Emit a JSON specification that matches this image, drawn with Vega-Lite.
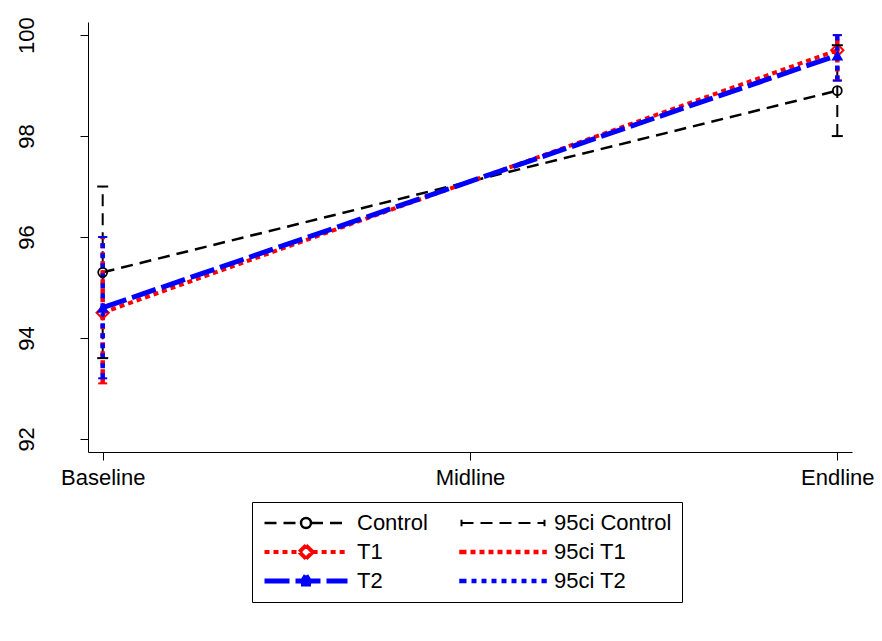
{
  "$schema": "https://vega.github.io/schema/vega-lite/v6.json",
  "width": 764,
  "height": 430,
  "autosize": {"type": "none"},
  "padding": {"left": 88, "top": 22, "right": 30, "bottom": 189},
  "background": "white",
  "config": {
    "view": {"stroke": null},
    "font": "Liberation Sans",
    "axis": {
      "labelFont": "Liberation Sans",
      "labelFontSize": 22,
      "labelColor": "black",
      "domainColor": "black",
      "domainWidth": 1,
      "tickColor": "black",
      "tickWidth": 1,
      "tickSize": 8,
      "grid": false,
      "title": null
    },
    "legend": {
      "orient": "none",
      "legendX": 164,
      "legendY": 480,
      "columns": 2,
      "padding": 10,
      "strokeColor": "black",
      "fillColor": "white",
      "columnPadding": 31,
      "rowPadding": 7,
      "clipHeight": 22,
      "symbolSize": 6889,
      "symbolOffset": 0,
      "labelOffset": 7,
      "labelFont": "Liberation Sans",
      "labelFontSize": 22,
      "labelColor": "black",
      "labelLimit": 300,
      "symbolFillColor": "transparent",
      "symbolOpacity": 1
    }
  },
  "datasets": {
    "lines": [
      {"series": "Control", "grp": "Control", "time": "Baseline", "v": 95.3},
      {"series": "Control", "grp": "Control", "time": "Endline", "v": 98.9},
      {"series": "T1", "grp": "T1", "time": "Baseline", "v": 94.5},
      {"series": "T1", "grp": "T1", "time": "Endline", "v": 99.7},
      {"series": "T2", "grp": "T2", "time": "Baseline", "v": 94.6},
      {"series": "T2", "grp": "T2", "time": "Endline", "v": 99.6},
      {"series": "95ci Control", "grp": "cC_b", "time": "Baseline", "v": 93.6},
      {"series": "95ci Control", "grp": "cC_b", "time": "Baseline", "v": 97.0},
      {"series": "95ci Control", "grp": "cC_e", "time": "Endline", "v": 98.0},
      {"series": "95ci Control", "grp": "cC_e", "time": "Endline", "v": 99.8},
      {"series": "95ci T1", "grp": "c1_b", "time": "Baseline", "v": 93.1},
      {"series": "95ci T1", "grp": "c1_b", "time": "Baseline", "v": 96.0},
      {"series": "95ci T1", "grp": "c1_e", "time": "Endline", "v": 99.1},
      {"series": "95ci T1", "grp": "c1_e", "time": "Endline", "v": 100.0},
      {"series": "95ci T2", "grp": "c2_b", "time": "Baseline", "v": 93.2},
      {"series": "95ci T2", "grp": "c2_b", "time": "Baseline", "v": 96.0},
      {"series": "95ci T2", "grp": "c2_e", "time": "Endline", "v": 99.1},
      {"series": "95ci T2", "grp": "c2_e", "time": "Endline", "v": 100.0}
    ]
  },
  "layer": [
    {
      "data": {"name": "lines"},
      "mark": {"type": "line"},
      "encoding": {
        "x": {
          "field": "time",
          "type": "ordinal",
          "scale": {"type": "point", "domain": ["Baseline", "Midline", "Endline"], "padding": 0.04},
          "axis": {"labelAngle": 0, "labelPadding": 7, "title": null}
        },
        "y": {
          "field": "v",
          "type": "quantitative",
          "scale": {"domain": [91.74, 100.26], "nice": false, "zero": false},
          "axis": {"values": [92, 94, 96, 98, 100], "labelAngle": -90, "labelAlign": "center", "labelBaseline": "bottom", "labelPadding": 42, "title": null}
        },
        "detail": {"field": "grp", "type": "nominal"},
        "color": {
          "field": "series",
          "type": "nominal",
          "scale": {
            "domain": ["Control", "T1", "T2", "95ci Control", "95ci T1", "95ci T2"],
            "range": ["#000000", "#ff0000", "#0000ff", "#000000", "#ff0000", "#0000ff"]
          },
          "legend": {
            "title": null,
            "encode": {
              "symbols": {
                "update": {
                  "shape": {"signal": "datum.value === 'Control' ? 'M-1,0H-0.12M0.12,0H1M0.12,0A0.12,0.12,0,0,1,0,0.12M0,0.12A0.12,0.12,0,0,1,-0.12,0M-0.12,0A0.12,0.12,0,0,1,0,-0.12M0,-0.12A0.12,0.12,0,0,1,0.12,0' : datum.value === '95ci Control' ? 'M-1,-0.08V0.08M-1,0H1M1,-0.08V0.08' : datum.value === 'T1' ? 'M-1,0H-0.16M0.16,0H1M-0.16,0L-0.08,-0.08M-0.08,-0.08L0,-0.16M0,-0.16L0.08,-0.08M0.08,-0.08L0.16,0M0.16,0L0.08,0.08M0.08,0.08L0,0.16M0,0.16L-0.08,0.08M-0.08,0.08L-0.16,0' : datum.value === 'T2' ? 'M-1,0H1M-0.12,0.07L0.12,0.07M0.12,0.07L0,-0.13M0,-0.13L-0.12,0.07' : 'M-1,-0.055V0.055M-1,0H1M1,-0.055V0.055'"}
                }
              }
            }
          }
        },
        "strokeDash": {
          "field": "series",
          "type": "nominal",
          "scale": {
            "domain": ["Control", "T1", "T2", "95ci Control", "95ci T1", "95ci T2"],
            "range": [[12, 7], [5, 4], [25, 6], [12, 7], [5, 4], [5, 5]]
          },
          "legend": {"title": null}
        },
        "strokeWidth": {
          "field": "series",
          "type": "nominal",
          "scale": {
            "type": "ordinal",
            "domain": ["Control", "T1", "T2", "95ci Control", "95ci T1", "95ci T2"],
            "range": [2.5, 4, 5, 2, 4.5, 4.5]
          },
          "legend": {"title": null}
        }
      }
    },
    {
      "data": {"name": "lines"},
      "transform": [{"filter": "datum.series === 'Control'"}],
      "mark": {"type": "point", "shape": "circle", "size": 80, "filled": false, "stroke": "#000000", "strokeWidth": 1.8, "opacity": 1},
      "encoding": {
        "x": {"field": "time", "type": "ordinal"},
        "y": {"field": "v", "type": "quantitative"}
      }
    },
    {
      "data": {"name": "lines"},
      "transform": [{"filter": "datum.series === 'T1'"}],
      "mark": {"type": "point", "shape": "diamond", "size": 150, "filled": false, "stroke": "#ff0000", "strokeWidth": 2, "opacity": 1},
      "encoding": {
        "x": {"field": "time", "type": "ordinal"},
        "y": {"field": "v", "type": "quantitative"}
      }
    },
    {
      "data": {"name": "lines"},
      "transform": [{"filter": "datum.series === 'T2'"}],
      "mark": {"type": "point", "shape": "triangle-up", "size": 140, "filled": true, "fill": "#0000ff", "opacity": 1},
      "encoding": {
        "x": {"field": "time", "type": "ordinal"},
        "y": {"field": "v", "type": "quantitative"}
      }
    },
    {
      "data": {"name": "lines"},
      "transform": [{"filter": "datum.series === '95ci Control'"}],
      "mark": {"type": "tick", "orient": "horizontal", "thickness": 2, "size": 11, "color": "#000000", "opacity": 1},
      "encoding": {
        "x": {"field": "time", "type": "ordinal"},
        "y": {"field": "v", "type": "quantitative"}
      }
    },
    {
      "data": {"name": "lines"},
      "transform": [{"filter": "datum.series === '95ci T1'"}],
      "mark": {"type": "tick", "orient": "horizontal", "thickness": 2, "size": 9, "color": "#ff0000", "opacity": 1},
      "encoding": {
        "x": {"field": "time", "type": "ordinal"},
        "y": {"field": "v", "type": "quantitative"}
      }
    },
    {
      "data": {"name": "lines"},
      "transform": [{"filter": "datum.series === '95ci T2'"}],
      "mark": {"type": "tick", "orient": "horizontal", "thickness": 2, "size": 9, "color": "#0000ff", "opacity": 1},
      "encoding": {
        "x": {"field": "time", "type": "ordinal"},
        "y": {"field": "v", "type": "quantitative"}
      }
    }
  ]
}
